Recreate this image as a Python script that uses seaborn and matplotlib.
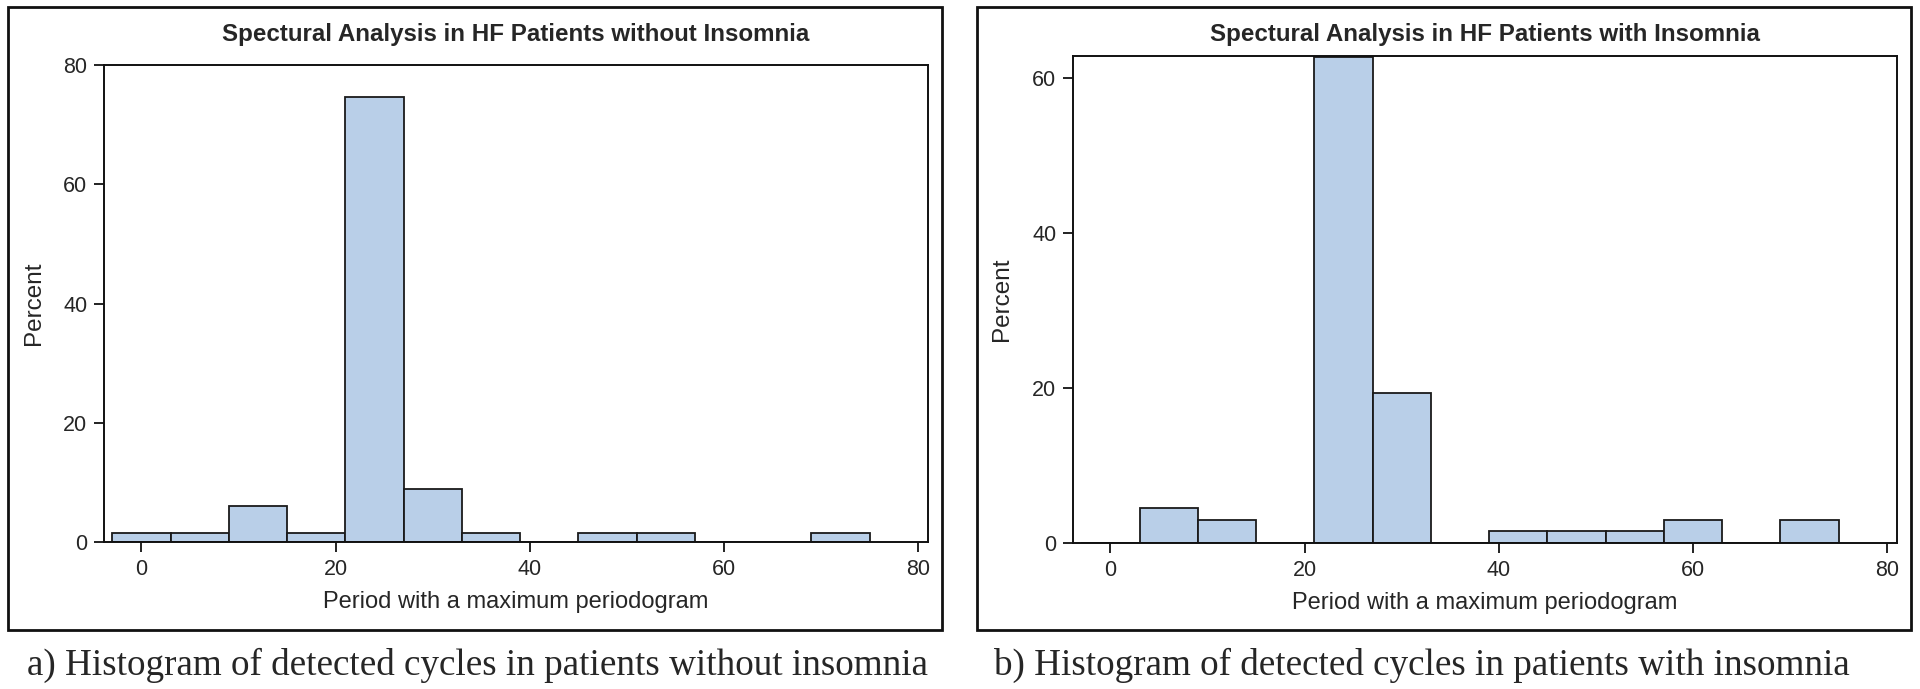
import numpy as np
import matplotlib
matplotlib.use("Agg")
import matplotlib.pyplot as plt
from matplotlib.patches import Rectangle
import seaborn as sns

# bins of width 6 centred on 0, 6, ..., 72
bin_edges = [-3, 3, 9, 15, 21, 27, 33, 39, 45, 51, 57, 63, 69, 75]
bin_centers = [0, 6, 12, 18, 24, 30, 36, 42, 48, 54, 60, 66, 72]

# percent of patients per bin
pct_no_insomnia = [1.49, 1.49, 5.97, 1.49, 74.6, 8.96, 1.49, 0, 1.49, 1.49, 0, 0, 1.49]
pct_insomnia = [0, 4.48, 2.99, 0, 62.7, 19.4, 0, 1.49, 1.49, 1.49, 2.99, 0, 2.99]

titles = ["Spectural Analysis in HF Patients without Insomnia",
          "Spectural Analysis in HF Patients with Insomnia"]
captions = ["a) Histogram of detected cycles in patients without insomnia",
            "b) Histogram of detected cycles in patients with insomnia"]
x_ticks = [0, 20, 40, 60, 80]
y_ticks = [[0, 20, 40, 60, 80], [0, 20, 40, 60]]
y_tops = [80, 62.85]

sns.set_style("white")
plt.rcParams["font.family"] = ["Liberation Sans", "DejaVu Sans"]

W, H = 1920, 689
fig = plt.figure(figsize=(W / 100, H / 100), dpi=100)

def fx(px):
    return px / W

def fy(py):
    return 1 - py / H

# axes boxes in pixels: left, top, right, bottom
ax_boxes = [(104, 65, 928, 542), (1073, 56, 1897, 543)]
frame_boxes = [(8, 7, 942, 630), (977, 7, 1911, 630)]
ylabel_x = [34, 1002]
caption_x = [27, 994]

for i, pct in enumerate([pct_no_insomnia, pct_insomnia]):
    l, t, r, b = ax_boxes[i]
    ax = fig.add_axes([fx(l), fy(b), fx(r - l), (b - t) / H])
    sns.histplot(x=bin_centers, weights=pct, bins=bin_edges, ax=ax,
                 color="#b9cfe8", alpha=1, edgecolor="#1a1a1a", linewidth=1.3)
    ax.set_xlim(-3.85, 81)
    ax.set_ylim(0, y_tops[i])
    ax.set_xticks(x_ticks)
    ax.set_yticks(y_ticks[i])
    ax.set_xlabel("Period with a maximum periodogram", fontsize=17, labelpad=8)
    ax.set_ylabel("")
    ax.tick_params(axis="both", which="both", direction="out", length=7, width=1.3,
                   labelsize=15.5, color="#111111", bottom=True, left=True, pad=5)
    for s in ax.spines.values():
        s.set_visible(True)
        s.set_linewidth(1.4)
        s.set_color("#111111")
    fig.text(fx((l + r) / 2), fy(35), titles[i], ha="center", va="center",
             fontsize=17.4, fontweight="bold")
    fig.text(fx(ylabel_x[i]), fy((t + b) / 2), "Percent", rotation=90,
             ha="center", va="center", fontsize=17.5)
    fl, ft, fr, fb = frame_boxes[i]
    fig.patches.append(Rectangle((fx(fl), fy(fb)), fx(fr - fl), (fb - ft) / H,
                                 transform=fig.transFigure, fill=False,
                                 edgecolor="#111111", linewidth=2))
    fig.text(fx(caption_x[i]), fy(665), captions[i], ha="left", va="center",
             fontsize=26.7, family=["Liberation Serif", "DejaVu Serif"])

fig.savefig("out.png", dpi=100)
